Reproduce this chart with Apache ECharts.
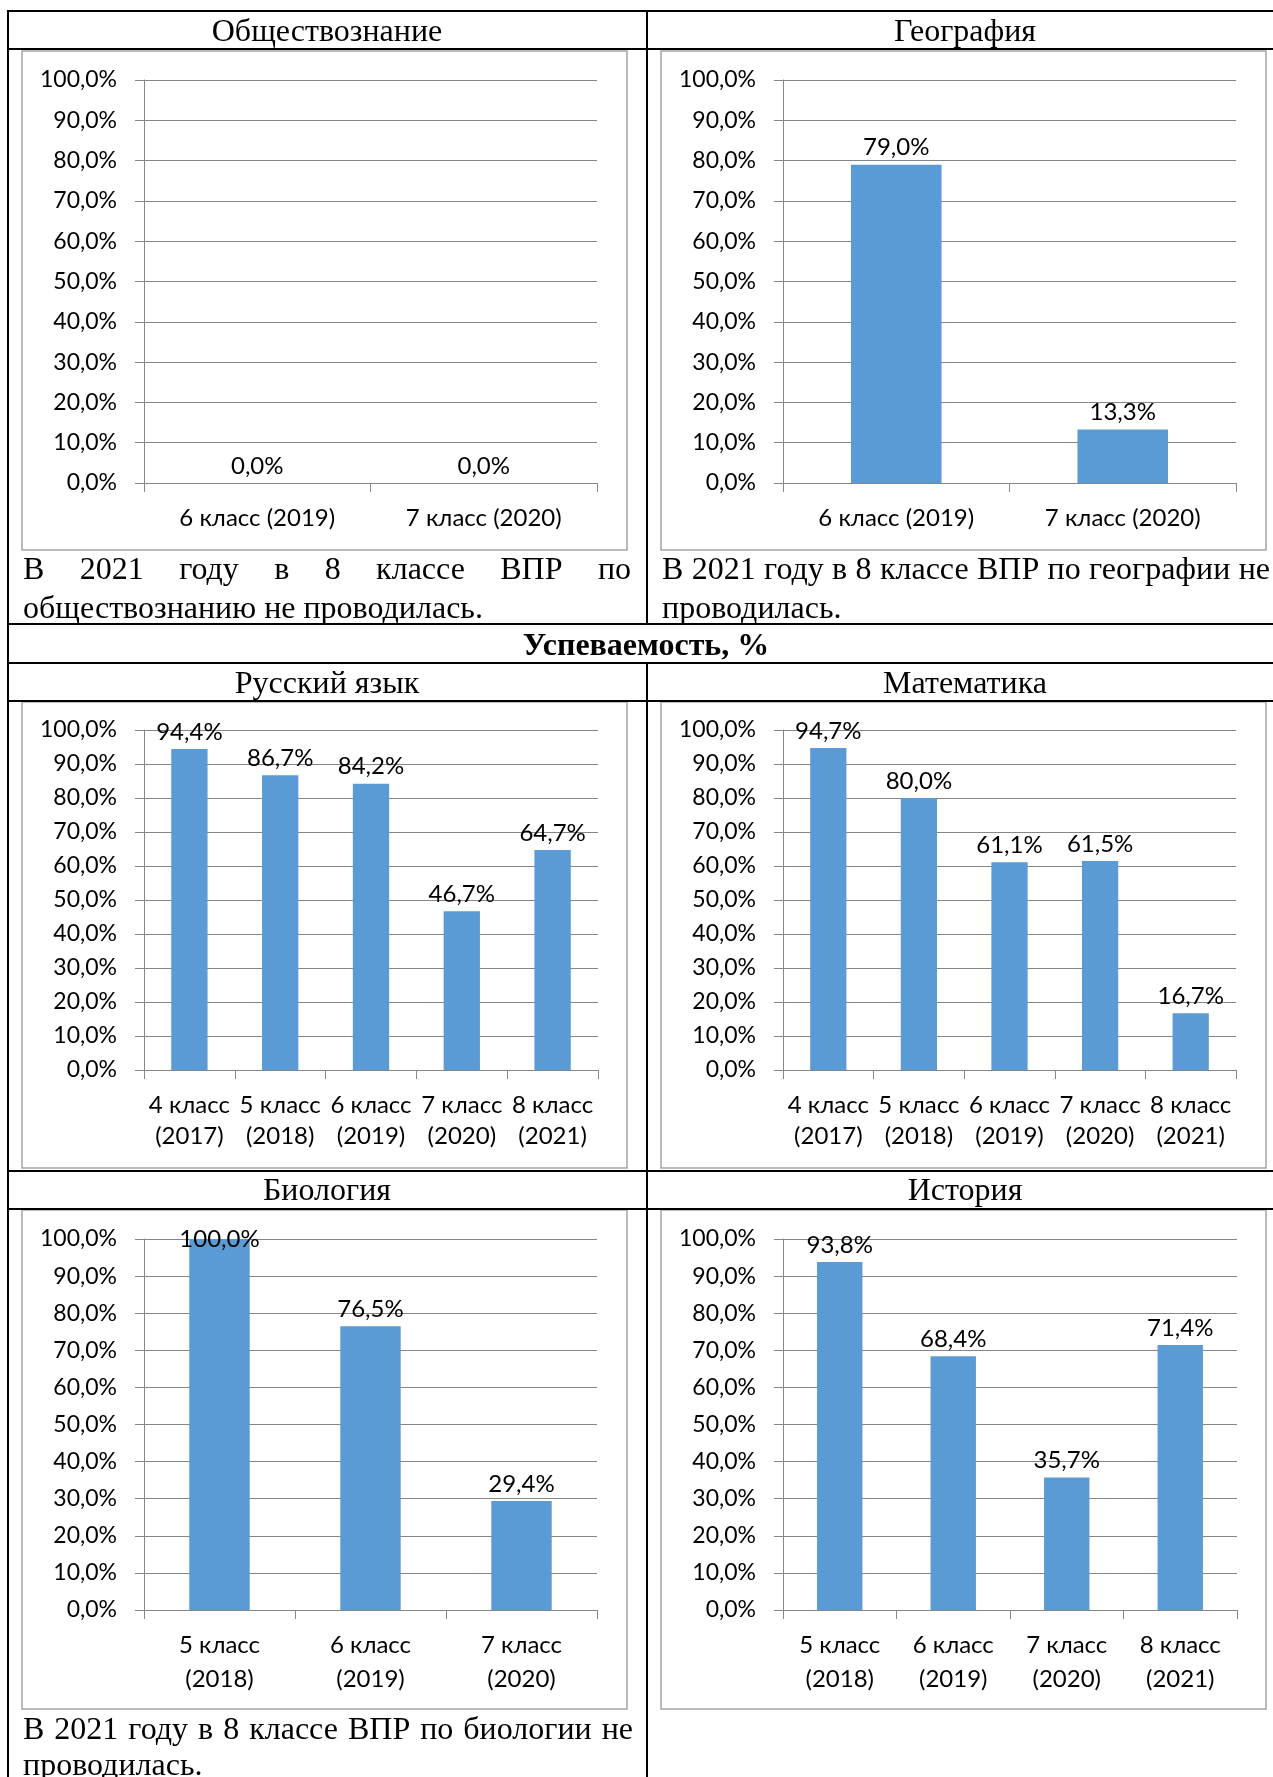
<!DOCTYPE html>
<html>
<head>
<meta charset="utf-8">
<script src="https://cdn.jsdelivr.net/npm/echarts@6/dist/echarts.min.js"></script>
<style>
html,body{margin:0;padding:0;background:#fff;}
#main{width:1273px;height:1777px;}
</style>
</head>
<body>
<div id="main"></div>
<script>
// данные по предметам
var obshCats = ['6 класс (2019)', '7 класс (2020)'];
var obshVals = [0.0, 0.0];
var geoCats = ['6 класс (2019)', '7 класс (2020)'];
var geoVals = [79.0, 13.3];
var rusCats = ['4 класс (2017)', '5 класс (2018)', '6 класс (2019)', '7 класс (2020)', '8 класс (2021)'];
var rusVals = [94.4, 86.7, 84.2, 46.7, 64.7];
var matCats = ['4 класс (2017)', '5 класс (2018)', '6 класс (2019)', '7 класс (2020)', '8 класс (2021)'];
var matVals = [94.7, 80.0, 61.1, 61.5, 16.7];
var bioCats = ['5 класс (2018)', '6 класс (2019)', '7 класс (2020)'];
var bioVals = [100.0, 76.5, 29.4];
var histCats = ['5 класс (2018)', '6 класс (2019)', '7 класс (2020)', '8 класс (2021)'];
var histVals = [93.8, 68.4, 35.7, 71.4];

var SANS = 'Lato';
var SERIF = '"Liberation Serif", "Times New Roman", serif';
var GRAY = '#868686';

function pct(v) {
	return Number(v).toFixed(1).replace('.', ',') + '%';
}

// панели: данные + положение области построения
var panels = [
	{cats: obshCats, vals: obshVals, left: 144, top: 80, width: 453, height: 403, wrap: false, margin: 21, lh: 28},
	{cats: geoCats, vals: geoVals, left: 783, top: 80, width: 453, height: 403, wrap: false, margin: 21, lh: 28},
	{cats: rusCats, vals: rusVals, left: 144, top: 730, width: 454, height: 340, wrap: true, margin: 20, lh: 31},
	{cats: matCats, vals: matVals, left: 783, top: 730, width: 453, height: 340, wrap: true, margin: 20, lh: 31},
	{cats: bioCats, vals: bioVals, left: 144, top: 1239, width: 453, height: 371, wrap: true, margin: 18, lh: 34},
	{cats: histCats, vals: histVals, left: 783, top: 1239, width: 454, height: 371, wrap: true, margin: 18, lh: 34}
];

var grids = [], xAxes = [], yAxes = [], series = [];
panels.forEach(function (p, i) {
	grids.push({left: p.left, top: p.top, width: p.width, height: p.height, containLabel: false, outerBoundsMode: 'none'});
	xAxes.push({
		type: 'category', gridIndex: i, data: p.cats,
		axisLine: {show: true, lineStyle: {color: GRAY, width: 1}},
		axisTick: {show: true, length: 9, lineStyle: {color: GRAY, width: 1}},
		splitLine: {show: false},
		axisLabel: {
			interval: 0, color: '#000', fontFamily: SANS, fontSize: 24,
			margin: p.margin, lineHeight: p.lh,
			formatter: function (s) { return p.wrap ? s.replace(' (', '\n(') : s; }
		}
	});
	yAxes.push({
		type: 'value', gridIndex: i, min: 0, max: 100, interval: 10,
		axisLine: {show: true, lineStyle: {color: GRAY, width: 1}},
		axisTick: {show: true, length: 9, lineStyle: {color: GRAY, width: 1}},
		splitLine: {show: true, lineStyle: {color: GRAY, width: 1}},
		axisLabel: {color: '#000', fontFamily: SANS, fontSize: 23, margin: 27, formatter: pct}
	});
	series.push({
		type: 'bar', xAxisIndex: i, yAxisIndex: i, barWidth: '40%',
		itemStyle: {color: '#5b9bd5'},
		label: {
			show: true, position: 'top', distance: 5, color: '#000',
			fontFamily: SANS, fontSize: 24,
			formatter: function (o) { return pct(o.value); }
		},
		data: p.vals.map(function (v) {
			// подпись 100% уходит внутрь области, как в Excel
			return v >= 100 ? {value: v, label: {offset: [0, 17]}} : v;
		})
	});
});

// разметка таблицы
var mctx = document.createElement('canvas').getContext('2d');
function txt(s, x, y, font, align) {
	return {type: 'text', z: 10, style: {text: s, x: x, y: y, font: font, fill: '#000', textAlign: align || 'left', textVerticalAlign: 'middle'}};
}
function justify(str, x0, x1, y, font) {
	var words = str.split(' ');
	mctx.font = font;
	var w = words.map(function (t) { return mctx.measureText(t).width; });
	var total = w.reduce(function (a, b) { return a + b; }, 0);
	var gap = (x1 - x0 - total) / (words.length - 1);
	var x = x0, out = [];
	words.forEach(function (t, i) {
		out.push(txt(t, x, y, font));
		x += w[i] + gap;
	});
	return out;
}
function hline(y, x1, x2) {
	return {type: 'line', z: 5, shape: {x1: x1, y1: y, x2: x2, y2: y}, style: {stroke: '#000', lineWidth: 2}};
}
function vline(x, y1, y2) {
	return {type: 'line', z: 5, shape: {x1: x, y1: y1, x2: x, y2: y2}, style: {stroke: '#000', lineWidth: 2}};
}
function frame(x, y, w, h) {
	return {type: 'rect', z: -1, shape: {x: x, y: y, width: w, height: h}, style: {fill: null, stroke: '#a5a5a5', lineWidth: 1.5}};
}

var F = '32px ' + SERIF;
var FB = 'bold 32px ' + SERIF;
var gfx = [
	hline(11, 7, 1273), hline(49, 7, 1273), hline(624, 7, 1273), hline(663, 7, 1273),
	hline(701, 7, 1273), hline(1171, 7, 1273), hline(1209, 7, 1273),
	vline(8, 10, 1777), vline(647, 10, 624), vline(647, 663, 1777),
	frame(22, 51, 605, 499), frame(661, 51, 605, 499),
	frame(22, 702, 605, 466), frame(661, 702, 605, 466),
	frame(22, 1210, 605, 499), frame(661, 1210, 605, 499),
	txt('Обществознание', 327, 33, F, 'center'),
	txt('География', 965, 33, F, 'center'),
	txt('Успеваемость, %', 646, 647, FB, 'center'),
	txt('Русский язык', 327, 685, F, 'center'),
	txt('Математика', 965, 685, F, 'center'),
	txt('Биология', 327, 1192, F, 'center'),
	txt('История', 965, 1192, F, 'center'),
	txt('обществознанию не проводилась.', 23, 610, F),
	txt('проводилась.', 662, 610, F),
	txt('проводилась.', 23, 1767, F)
];
gfx = gfx.concat(
	justify('В 2021 году в 8 классе ВПР по', 23, 631, 571, F),
	justify('В 2021 году в 8 классе ВПР по географии не', 662, 1270, 571, F),
	justify('В 2021 году в 8 классе ВПР по биологии не', 23, 633, 1731, F)
);

var chart = echarts.init(document.getElementById('main'));
chart.setOption({
	backgroundColor: '#fff',
	animation: false,
	grid: grids,
	xAxis: xAxes,
	yAxis: yAxes,
	series: series,
	graphic: {elements: gfx}
});
</script>
</body>
</html>
